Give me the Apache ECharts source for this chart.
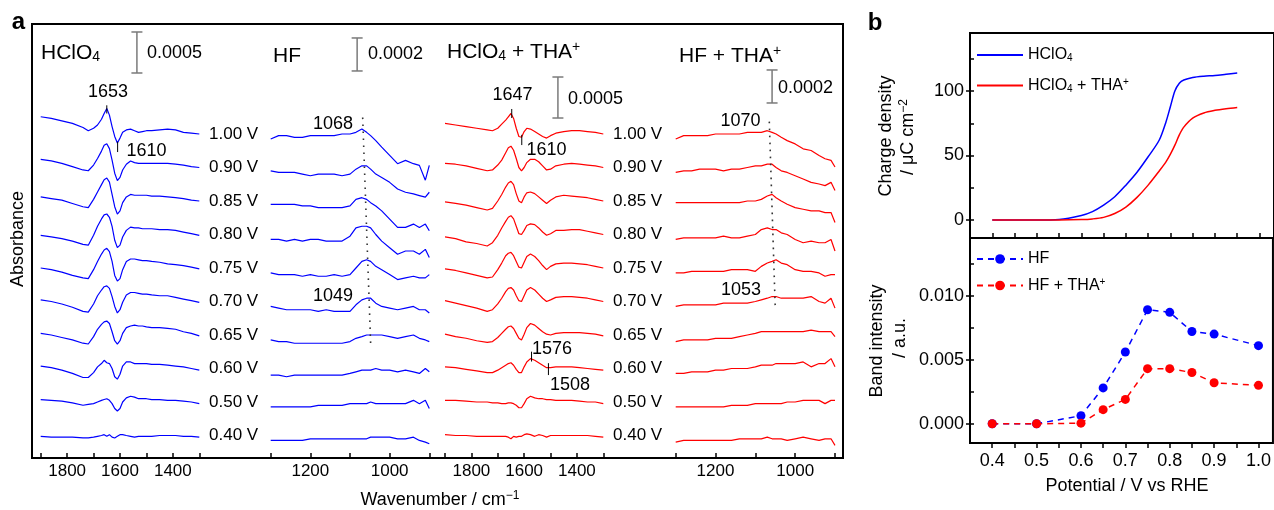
<!DOCTYPE html>
<html><head><meta charset="utf-8">
<script src="https://cdn.jsdelivr.net/npm/echarts@6/dist/echarts.min.js"></script>
<style>html,body{margin:0;padding:0;background:#fff}#c{width:1274px;height:510px}</style>
</head><body><div id="c"></div>
<script>
// ---------------- DATA ----------------
// Panel a: spectra values are absorbance x 10^-4, one array per potential
const ROW_LABELS = ['1.00 V','0.90 V','0.85 V','0.80 V','0.75 V','0.70 V','0.65 V','0.60 V','0.50 V','0.40 V'];
const WN_CLO4 = [1900,1860,1820,1780,1740,1720,1700,1685,1670,1660,1650,1640,1630,1620,1610,1600,1590,1576,1560,1545,1530,1515,1500,1480,1450,1420,1390,1360,1330,1300];
const WN_HF = [1300,1280,1260,1240,1220,1200,1180,1160,1140,1120,1100,1085,1070,1058,1048,1035,1020,1000,980,960,940,925,910,900];
const CLO4_TICKS = [1800,1600,1400];
const HF_TICKS = [1200,1000];
const SCALE_BAR_VALUES = [0.0005, 0.0002, 0.0005, 0.0002];

// HClO4
const clo4_100 = [2.1,1.9,1.6,1.3,0.8,0.4,0.7,1.1,1.8,2.5,3.1,2.3,0.9,-0.3,-1.1,-0.5,0.2,0.5,0.6,0.4,0.2,0.3,0.4,0.4,0.5,0.6,0.5,0.2,0.1,0];
const clo4_090 = [1.0,0.8,0.5,0.1,-0.3,-0.4,0.3,1.1,2.0,2.7,2.9,2.3,0.9,-0.7,-1.6,-1.2,-0.3,0.4,0.8,0.6,0.5,0.5,0.5,0.5,0.5,0.5,0.4,0.3,0.1,0];
const clo4_085 = [0.5,0.3,0.1,-0.3,-0.7,-0.8,0.2,1.1,2.0,2.6,2.8,2.3,0.8,-0.7,-1.6,-1.2,-0.2,0.5,0.8,0.7,0.7,0.7,0.7,0.6,0.6,0.5,0.4,0.3,0.1,0];
const clo4_080 = [-0.1,-0.3,-0.5,-0.8,-1.2,-1.3,-0.1,1.0,1.9,2.4,2.5,2.1,1.0,-0.7,-1.6,-1.3,-0.3,0.5,0.9,0.8,0.8,0.7,0.7,0.7,0.6,0.6,0.5,0.3,0.1,-0.1];
const clo4_075 = [0,-0.2,-0.5,-0.9,-1.2,-1.3,-0.2,0.8,1.7,2.2,2.4,2.0,0.8,-0.9,-1.6,-1.3,-0.2,0.8,1.1,1.1,1.0,0.9,0.9,0.8,0.7,0.5,0.4,0.3,0.1,-0.1];
const clo4_070 = [0.2,0,-0.3,-0.7,-1.2,-1.3,-0.3,0.7,1.4,1.8,1.9,1.6,0.6,-0.6,-1.4,-1.0,-0.1,0.8,1.1,1.1,1.0,0.9,0.9,0.8,0.7,0.7,0.5,0.3,0.1,-0.1];
const clo4_065 = [0.2,0,-0.3,-0.6,-1.0,-1.1,-0.2,0.7,1.3,1.6,1.7,1.4,0.4,-0.7,-1.1,-0.7,0.2,0.9,1.1,1.2,1.1,1.1,1.0,0.9,0.9,0.8,0.7,0.4,0.2,-0.1];
const clo4_060 = [0.3,0.1,-0.2,-0.6,-1.1,-1.1,-0.5,0.2,0.6,1.0,0.7,0.6,0,-1.0,-1.3,-0.7,0.3,0.8,0.8,0.6,0.6,0.6,0.6,0.5,0.5,0.4,0.3,0.2,0,-0.2];
const clo4_050 = [0.3,0.2,0.1,-0.1,-0.4,-0.3,-0.2,0,0.2,0.3,0.4,0.2,-0.2,-0.8,-1.1,-0.8,0,0.5,0.7,0.6,0.4,0.4,0.4,0.3,0.3,0.2,0.2,0.1,0,-0.2];
const clo4_040 = [-0.1,-0.2,-0.2,-0.2,-0.3,-0.3,-0.2,-0.1,0,0.1,-0.1,0.1,-0.2,-0.3,-0.1,0.1,0.1,0,-0.1,-0.2,-0.1,-0.1,-0.1,-0.1,0,0,0,-0.1,-0.1,-0.2];

// HF
const hf_100 = [-0.3,-0.1,-0.1,-0.2,-0.2,-0.1,-0.1,-0.1,-0.1,0,0,0.1,0.3,0.1,-0.1,-0.4,-0.8,-1.3,-1.8,-1.6,-1.8,-1.9,-2.8,-1.9];
const hf_090 = [-0.2,-0.3,-0.3,-0.3,-0.4,-0.5,-0.4,-0.4,-0.4,-0.5,-0.4,-0.1,0.1,0.1,-0.1,-0.4,-0.6,-0.9,-1.3,-1.5,-1.6,-1.7,-1.8,-1.5];
const hf_085 = [-0.2,-0.2,-0.2,-0.2,-0.3,-0.3,-0.4,-0.4,-0.4,-0.4,-0.3,0.1,0.2,0.1,-0.1,-0.3,-0.6,-1.1,-1.6,-1.6,-1.4,-1.6,-1.4,-1.8];
const hf_080 = [-0.3,-0.3,-0.4,-0.3,-0.4,-0.3,-0.3,-0.4,-0.4,-0.4,-0.1,0.4,0.5,0.5,0.4,0,-0.4,-0.8,-1.2,-1.0,-1.0,-1.2,-0.9,-1.4];
const hf_075 = [-0.3,-0.4,-0.4,-0.4,-0.5,-0.4,-0.5,-0.5,-0.4,-0.5,-0.4,0,0.4,0.5,0.4,0.1,-0.1,-0.4,-0.7,-0.6,-0.5,-0.6,-0.6,-0.4];
const hf_070 = [-0.3,-0.4,-0.5,-0.5,-0.5,-0.5,-0.6,-0.5,-0.6,-0.6,-0.6,-0.2,0.1,0.2,0.2,-0.1,-0.3,-0.4,-0.5,-0.4,-0.3,-0.5,-0.5,-0.7];
const hf_065 = [-0.3,-0.4,-0.4,-0.5,-0.5,-0.5,-0.5,-0.5,-0.5,-0.5,-0.4,-0.2,-0.1,0,0,0,0,-0.1,-0.2,-0.1,0,-0.2,-0.3,-0.4];
const hf_060 = [-0.4,-0.4,-0.5,-0.4,-0.4,-0.4,-0.4,-0.4,-0.4,-0.4,-0.3,-0.2,-0.1,-0.1,-0.1,0,-0.1,-0.1,-0.2,-0.1,-0.2,-0.3,0,-0.2];
const hf_050 = [-0.3,-0.3,-0.3,-0.3,-0.3,-0.3,-0.2,-0.2,-0.2,-0.2,-0.1,-0.1,-0.1,-0.1,0,-0.1,-0.1,-0.1,-0.1,-0.1,0.1,-0.1,0.1,-0.4];
const hf_040 = [-0.3,-0.3,-0.3,-0.3,-0.3,-0.2,-0.2,-0.2,-0.2,-0.2,-0.2,-0.2,-0.2,-0.2,-0.1,-0.1,-0.1,-0.1,-0.2,-0.2,-0.1,-0.3,-0.4,-0.5];

// HClO4 + THA+
const clo4tha_100 = [1.3,1.1,0.9,0.7,0.5,0.4,0.7,1.2,1.7,2.1,2.5,1.9,0.7,-0.3,-0.4,0.3,0.7,0.6,0.3,0,-0.3,-0.5,-0.2,0.1,0.3,0.4,0.4,0.3,0.2,0];
const clo4tha_090 = [0.5,0.4,0.2,-0.1,-0.4,-0.3,0.3,0.9,1.8,2.4,2.6,2.1,1.1,0,-0.4,0,0.6,1.0,1.0,0.7,0.2,-0.3,-0.2,0.2,0.4,0.5,0.4,0.3,0.2,0];
const clo4tha_085 = [-0.1,-0.3,-0.5,-0.8,-1.1,-0.9,0,0.8,1.7,2.2,2.4,2.0,0.9,0,-0.2,0.5,1.0,1.1,0.9,0.5,0.1,-0.3,0.1,0.5,0.7,0.6,0.5,0.4,0.2,0];
const clo4tha_080 = [-0.3,-0.5,-0.9,-1.1,-1.4,-1.0,-0.1,0.8,1.6,2.1,2.3,1.9,1.0,0.1,0,0.5,1.1,1.3,1.2,0.8,0.3,-0.1,0.1,0.5,0.5,0.6,0.6,0.4,0.2,0];
const clo4tha_075 = [-0.1,-0.3,-0.6,-0.9,-1.2,-1.1,-0.2,0.6,1.5,1.8,1.9,1.5,0.8,0.1,0,0.7,1.4,1.7,1.4,0.9,0.3,-0.2,0.2,0.5,0.6,0.6,0.5,0.4,0.2,0];
const clo4tha_070 = [0.1,-0.2,-0.5,-0.8,-1.2,-1.0,-0.3,0.4,1.2,1.6,1.7,1.4,0.7,0.1,0,0.7,1.4,1.7,1.4,0.9,0.4,0,0.2,0.5,0.6,0.6,0.5,0.4,0.2,0];
const clo4tha_065 = [0.1,-0.2,-0.4,-0.7,-0.9,-0.8,-0.3,0.2,0.7,1.0,1.1,0.8,0.2,-0.4,-0.6,0.1,0.9,1.4,1.2,0.8,0.4,0.1,0,0.2,0.3,0.3,0.3,0.2,0.1,-0.1];
const clo4tha_060 = [0.2,0.1,-0.1,-0.3,-0.5,-0.5,-0.2,0.1,0.4,0.6,0.7,0.4,-0.1,-0.5,-0.5,0.2,0.8,1.2,1.0,0.7,0.4,0.1,0.1,0.2,0.2,0.2,0.1,0,-0.1,-0.2];
const clo4tha_050 = [0.2,0.2,0.1,0,0,-0.1,-0.1,-0.2,-0.2,-0.1,-0.1,-0.2,-0.4,-0.7,-0.7,-0.2,0.4,0.7,0.5,0.4,0.4,0.3,0.3,0.2,0.2,0.2,0.1,0,0,-0.2];
const clo4tha_040 = [0.1,0,0,-0.1,-0.1,-0.1,-0.1,-0.1,-0.1,-0.2,-0.4,-0.1,-0.2,-0.1,-0.1,0.1,0.2,0.1,-0.1,0.1,0,-0.2,0,0,0,0,0,0,-0.1,-0.2];

// HF + THA+
const hftha_100 = [-0.3,-0.1,-0.1,-0.1,-0.1,0,0,0,0,0.1,0.1,0.1,0.2,0.1,0,-0.2,-0.4,-0.6,-0.9,-1.0,-1.3,-1.5,-1.6,-2.0];
const hftha_090 = [-0.3,-0.2,-0.2,-0.1,-0.1,-0.1,-0.2,-0.1,-0.1,0,0.1,0.1,0.2,0.2,0,-0.2,-0.3,-0.5,-0.7,-0.9,-1.0,-1.1,-0.9,-1.4];
const hftha_085 = [-0.1,-0.1,-0.1,-0.1,-0.1,-0.1,-0.1,-0.1,-0.1,0,0,0.1,0.3,0.4,0.2,0,-0.2,-0.4,-0.5,-0.6,-0.6,-0.7,-0.7,-1.3];
const hftha_080 = [-0.3,-0.2,-0.2,-0.2,-0.2,-0.2,-0.1,-0.2,-0.2,-0.1,0,0.3,0.4,0.3,0.3,0.1,0,-0.3,-0.5,-0.4,-0.5,-0.5,-0.3,-1.0];
const hftha_075 = [-0.3,-0.3,-0.2,-0.2,-0.2,-0.2,-0.2,-0.1,-0.1,-0.1,-0.2,0.1,0.3,0.4,0.5,0.3,0.2,-0.1,-0.2,-0.2,-0.3,-0.5,-0.4,-0.4];
const hftha_070 = [-0.3,-0.2,-0.2,-0.2,-0.2,-0.2,-0.1,-0.1,-0.1,-0.1,0,0.1,0.2,0.3,0.3,0.2,0.2,0.2,0.2,0.3,0,-0.1,0.2,-0.4];
const hftha_065 = [-0.4,-0.3,-0.3,-0.3,-0.3,-0.2,-0.2,-0.2,-0.1,0,0.1,0.2,0.2,0.2,0.2,0.2,0.2,0.2,0.2,0.3,0.2,0.2,0.2,-0.1];
const hftha_060 = [-0.3,-0.3,-0.2,-0.2,-0.2,-0.1,-0.1,0,0,0,0.1,0.2,0.2,0.2,0.3,0.3,0.3,0.3,0.4,0.1,0.3,0.3,0.6,0.1];
const hftha_050 = [-0.3,-0.3,-0.3,-0.3,-0.3,-0.3,-0.3,-0.2,-0.2,-0.2,-0.1,-0.1,-0.1,-0.1,-0.1,-0.1,0,0,0.1,0.1,0.1,-0.1,0.1,0.1];
const hftha_040 = [-0.4,-0.3,-0.3,-0.3,-0.3,-0.3,-0.3,-0.3,-0.2,-0.2,-0.2,-0.2,-0.1,-0.2,-0.2,-0.2,-0.3,-0.2,-0.1,-0.2,-0.3,-0.2,-0.2,-0.6];

const CLO4_SPECTRA = [clo4_100,clo4_090,clo4_085,clo4_080,clo4_075,clo4_070,clo4_065,clo4_060,clo4_050,clo4_040];
const HF_SPECTRA = [hf_100,hf_090,hf_085,hf_080,hf_075,hf_070,hf_065,hf_060,hf_050,hf_040];
const CLO4THA_SPECTRA = [clo4tha_100,clo4tha_090,clo4tha_085,clo4tha_080,clo4tha_075,clo4tha_070,clo4tha_065,clo4tha_060,clo4tha_050,clo4tha_040];
const HFTHA_SPECTRA = [hftha_100,hftha_090,hftha_085,hftha_080,hftha_075,hftha_070,hftha_065,hftha_060,hftha_050,hftha_040];

// Panel b
const CD_POT = [0.40,0.45,0.50,0.55,0.60,0.625,0.65,0.675,0.70,0.725,0.75,0.775,0.79,0.80,0.81,0.82,0.83,0.85,0.875,0.90,0.925,0.95];
const CD_HClO4 = [0,0,0,0.4,3.5,6.5,11.5,18,27,37,49,62,76,88,100,106,108.5,110.5,111.5,112,113,114];
const CD_HClO4_THA = [0,0,0,0,0.3,0.8,2,5,10,17.5,27,38,45,51,58,66,72,79,83,85,86.3,87.3];
const BI_POT = [0.4,0.5,0.6,0.65,0.7,0.75,0.8,0.85,0.9,1.0];
const BI_HF = [0,0,0.00063,0.0028,0.0056,0.0089,0.0087,0.0072,0.0070,0.0061];
const BI_HF_THA = [0,0,0.00005,0.0011,0.0019,0.0043,0.0043,0.0040,0.0032,0.0030];
const CD_TICKS = [0,25,50,75,100,125], CD_LABELS = [0,50,100];
const BI_TICKS = [0,0.0025,0.005,0.0075,0.01,0.0125], BI_LABELS = [0,0.005,0.01];
const POT_TICKS = [0.4,0.45,0.5,0.55,0.6,0.65,0.7,0.75,0.8,0.85,0.9,0.95,1.0];
const POT_LABELS = [0.4,0.5,0.6,0.7,0.8,0.9,1.0];

// ---------------- LAYOUT / STYLE ----------------
const BLUE = '#0000ff', RED = '#ff0000';
const FONT = '"Liberation Sans", Arial, Helvetica, sans-serif';
const FRAME = {x: 32, y: 24, w: 811, h: 434};
const ROW0_Y = 134, ROW_GAP = 33.5;
const UNIT = 1e-4;
const PANELS = [
  {key:'HClO4', left:40.7, width:158.6, min:1300, max:1900, wn:WN_CLO4, spectra:CLO4_SPECTRA, ppu:8.2, color:BLUE, ticks:CLO4_TICKS},
  {key:'HF', left:270.7, width:158.6, min:900, max:1300, wn:WN_HF, spectra:HF_SPECTRA, ppu:16.5, color:BLUE, ticks:HF_TICKS},
  {key:'HClO4+THA', left:445, width:158.3, min:1300, max:1900, wn:WN_CLO4, spectra:CLO4THA_SPECTRA, ppu:8.2, color:RED, ticks:CLO4_TICKS},
  {key:'HF+THA', left:675.7, width:159.3, min:900, max:1300, wn:WN_HF, spectra:HFTHA_SPECTRA, ppu:16.5, color:RED, ticks:HF_TICKS}
];
// annotation marks: [panel, kind, w1, row1, v1, w2, row2, v2]  (v in 1e-4 units above row baseline)
const MARKS = [
  [0,'tick',1650,0,2.5,1650,0,3.5],
  [0,'tick',1609,0,-0.95,1609,0,-2.2],
  [1,'dot',1068,0,1.0,1048,6,-0.5],
  [2,'tick',1647,0,1.95,1647,0,3.05],
  [2,'tick',1609,0,-0.1,1609,0,-1.35],
  [2,'tick',1572,7,0.85,1572,7,2.05],
  [2,'tick',1508,7,-0.8,1508,7,0.65],
  [3,'dot',1065,0,0.75,1050,5,-0.4]
];
const SCALE_BARS = [{w:1536, from:7.44},{w:1082, from:3.82},{w:1472, from:1.95},{w:1058, from:1.88}];

function rich(size){
  return {
    sub:{fontSize:Math.round(size*0.65), fontFamily:FONT, padding:[Math.round(size*0.45),0,0,0]},
    sup:{fontSize:Math.round(size*0.65), fontFamily:FONT, padding:[0,0,Math.round(size*0.45),0]}
  };
}
function T(x, y, text, size, o){
  o = o || {};
  return {type:'text', x:x, y:y, rotation:o.rot||0, z:100, silent:true,
    style:{text:text, fontSize:size, fontFamily:FONT, fontWeight:o.bold?'bold':'normal', fill:o.color||'#000',
      align:o.align||'center', verticalAlign:'middle', rich:rich(size)}};
}

function renderMark(params, api){
  const a = api.coord([api.value(0), api.value(1)]);
  const b = api.coord([api.value(2), api.value(3)]);
  const kind = api.value(4);
  if (kind === 2) {
    const c = 5.5, st = {stroke:'#7a7a7a', lineWidth:1.5};
    return {type:'group', children:[
      {type:'line', shape:{x1:a[0],y1:a[1],x2:b[0],y2:b[1]}, style:st},
      {type:'line', shape:{x1:a[0]-c,y1:a[1],x2:a[0]+c,y2:a[1]}, style:st},
      {type:'line', shape:{x1:b[0]-c,y1:b[1],x2:b[0]+c,y2:b[1]}, style:st}]};
  }
  if (kind === 1) {
    return {type:'line', shape:{x1:a[0],y1:a[1],x2:b[0],y2:b[1]}, style:{stroke:'#333', lineWidth:1.6, lineDash:[1.6,5.4]}};
  }
  return {type:'line', shape:{x1:a[0],y1:a[1],x2:b[0],y2:b[1]}, style:{stroke:'#000', lineWidth:1}};
}

const grids = [], xAxes = [], yAxes = [], series = [];
PANELS.forEach((p, pi) => {
  grids.push({left:p.left, top:FRAME.y, width:p.width, height:FRAME.h, show:false});
  xAxes.push({type:'value', gridIndex:pi, min:p.min, max:p.max, interval:100, inverse:true, position:'bottom',
    axisLine:{show:false, onZero:false}, splitLine:{show:false},
    axisTick:{show:true, inside:true, length:5, lineStyle:{color:'#000', width:1.5}},
    axisLabel:{interval:0, margin:5, fontSize:17, color:'#000', fontFamily:FONT,
      formatter: v => p.ticks.indexOf(Math.round(v)) >= 0 ? String(Math.round(v)) : ''}});
  yAxes.push({type:'value', gridIndex:pi, show:false,
    min:(ROW0_Y - (FRAME.y + FRAME.h)) / p.ppu, max:(ROW0_Y - FRAME.y) / p.ppu});
  const rowOff = r => -r * ROW_GAP / p.ppu;
  p.spectra.forEach((spec, ri) => {
    series.push({type:'line', name:p.key + ' ' + ROW_LABELS[ri], xAxisIndex:pi, yAxisIndex:pi,
      data:p.wn.map((w, k) => [w, spec[k] + rowOff(ri)]), symbol:'none', silent:true,
      lineStyle:{color:p.color, width:1.2}, itemStyle:{color:p.color}, z:2});
  });
  const items = [];
  MARKS.filter(m => m[0] === pi).forEach(m => {
    items.push([m[2], m[4] + rowOff(m[3]), m[5], m[7] + rowOff(m[6]), m[1] === 'dot' ? 1 : 0]);
  });
  const sb = SCALE_BARS[pi];
  items.push([sb.w, sb.from, sb.w, sb.from + SCALE_BAR_VALUES[pi] / UNIT, 2]);
  series.push({type:'custom', xAxisIndex:pi, yAxisIndex:pi, renderItem:renderMark, data:items,
    encode:{x:[0,2], y:[1,3]}, z:5, silent:true, clip:false});
});

// panel b grids (grid 4: charge density, grid 5: band intensity)
const B_LEFT = 970, B_W = 306, B_PX_PER_V = 448.3;
const B_XMIN = 0.35, B_XMAX = B_XMIN + B_W / B_PX_PER_V;
grids.push({left:B_LEFT, top:33, width:B_W, height:205, show:true, borderColor:'#000', borderWidth:2, backgroundColor:'transparent'});
grids.push({left:B_LEFT, top:238, width:B_W, height:205, show:true, borderColor:'#000', borderWidth:2, backgroundColor:'transparent'});
const bx = (gi, labels) => ({type:'value', gridIndex:gi, min:B_XMIN, max:B_XMAX, position:'bottom',
  axisLine:{show:false, onZero:false}, splitLine:{show:false},
  axisTick:{show:true, inside:!labels, length:5, customValues:POT_TICKS, lineStyle:{color:'#000', width:1.5}},
  axisLabel:{show:labels, margin:9, fontSize:18, color:'#000', fontFamily:FONT, customValues:POT_LABELS,
    formatter: v => v.toFixed(1)}});
xAxes.push(bx(4, false));   // xAxis 4
xAxes.push(bx(5, true));    // xAxis 5
const by = (gi, min, max, ticks, labels, fmt) => [
  {type:'value', gridIndex:gi, min:min, max:max, position:'left',
    axisLine:{show:false, onZero:false}, splitLine:{show:false},
    axisTick:{show:true, inside:false, length:4, customValues:labels, lineStyle:{color:'#000', width:1.5}},
    axisLabel:{margin:6, fontSize:18, color:'#000', fontFamily:FONT, customValues:labels, formatter:fmt}},
  {type:'value', gridIndex:gi, min:min, max:max, position:'left',
    axisLine:{show:false, onZero:false}, splitLine:{show:false},
    axisTick:{show:true, inside:true, length:4, customValues:ticks, lineStyle:{color:'#000', width:1.5}},
    axisLabel:{show:false}}
];
yAxes.push(...by(4, -14, 145, CD_TICKS, CD_LABELS, v => String(v)));            // yAxis 4,5
yAxes.push(...by(5, -0.0015, 0.0145, BI_TICKS, BI_LABELS, v => v.toFixed(3)));  // yAxis 6,7

series.push({type:'line', name:'HClO4', xAxisIndex:4, yAxisIndex:4, data:CD_POT.map((e,k)=>[e, CD_HClO4[k]]),
  symbol:'none', smooth:0.3, lineStyle:{color:BLUE, width:1.5}, itemStyle:{color:BLUE}});
series.push({type:'line', name:'HClO4 + THA+', xAxisIndex:4, yAxisIndex:4, data:CD_POT.map((e,k)=>[e, CD_HClO4_THA[k]]),
  symbol:'none', smooth:0.3, lineStyle:{color:RED, width:1.5}, itemStyle:{color:RED}});
series.push({type:'line', name:'HF', xAxisIndex:5, yAxisIndex:6, data:BI_POT.map((e,k)=>[e, BI_HF[k]]),
  symbol:'circle', symbolSize:9, lineStyle:{color:BLUE, width:1.5, type:[6,5]}, itemStyle:{color:BLUE}});
series.push({type:'line', name:'HF + THA+', xAxisIndex:5, yAxisIndex:6, data:BI_POT.map((e,k)=>[e, BI_HF_THA[k]]),
  symbol:'circle', symbolSize:9, lineStyle:{color:RED, width:1.5, type:[6,5]}, itemStyle:{color:RED}});

const LEG_NAMES = {'HClO4':'HClO{sub|4}', 'HClO4 + THA+':'HClO{sub|4} + THA{sup|+}', 'HF':'HF', 'HF + THA+':'HF + THA{sup|+}'};
const legend = (name, top, noSymbol) => {
  const l = {data:[name], left:976, top:top, padding:0, itemWidth:46, itemHeight:12, selectedMode:false,
    formatter: n => LEG_NAMES[n], textStyle:{fontSize:16, color:'#000', fontFamily:FONT, rich:rich(16)}};
  if (noSymbol) l.itemStyle = {opacity:0, borderWidth:0};
  return l;
};

// text graphics
const graphics = [
  {type:'rect', shape:{x:FRAME.x, y:FRAME.y, width:FRAME.w, height:FRAME.h}, style:{fill:'none', stroke:'#000', lineWidth:2}, z:50, silent:true},
  T(18.5, 22.5, 'a', 24, {bold:true}),
  T(875, 23.5, 'b', 24, {bold:true}),
  T(41, 53, 'HClO{sub|4}', 21, {align:'left'}),
  T(273, 56, 'HF', 21, {align:'left'}),
  T(447, 52, 'HClO{sub|4} + THA{sup|+}', 21, {align:'left'}),
  T(679, 56, 'HF + THA{sup|+}', 21, {align:'left'}),
  T(147, 53, '0.0005', 18, {align:'left'}),
  T(368, 54, '0.0002', 18, {align:'left'}),
  T(568, 99, '0.0005', 18, {align:'left'}),
  T(778, 88, '0.0002', 18, {align:'left'}),
  T(108, 92, '1653', 18), T(146.5, 151.5, '1610', 18),
  T(333, 124.5, '1068', 18), T(333, 296, '1049', 18),
  T(512.5, 95, '1647', 18), T(546.5, 150, '1610', 18),
  T(552, 349, '1576', 18), T(570, 385, '1508', 18),
  T(740.5, 121.5, '1070', 18), T(741, 290, '1053', 18),
  T(18.5, 239, 'Absorbance', 18, {rot:Math.PI/2}),
  T(440, 500, 'Wavenumber / cm{sup|−1}', 18),
  T(1127, 486, 'Potential / V vs RHE', 18),
  T(886, 136, 'Charge density', 18, {rot:Math.PI/2}),
  T(908, 137, '/ μC cm{sup|−2}', 18, {rot:Math.PI/2}),
  T(877, 341, 'Band intensity', 18, {rot:Math.PI/2}),
  T(900, 338, '/ a.u.', 18, {rot:Math.PI/2})
];
ROW_LABELS.forEach((lab, i) => {
  graphics.push(T(209, ROW0_Y + i * ROW_GAP, lab, 17, {align:'left'}));
  graphics.push(T(613, ROW0_Y + i * ROW_GAP, lab, 17, {align:'left'}));
});

const chart = echarts.init(document.getElementById('c'), null, {renderer:'canvas'});
chart.setOption({
  animation:false,
  backgroundColor:'#fff',
  textStyle:{fontFamily:FONT},
  grid:grids, xAxis:xAxes, yAxis:yAxes, series:series,
  legend:[legend('HClO4', 47, true), legend('HClO4 + THA+', 77, true), legend('HF', 251, false), legend('HF + THA+', 277, false)],
  graphic:graphics
});
</script></body></html>
